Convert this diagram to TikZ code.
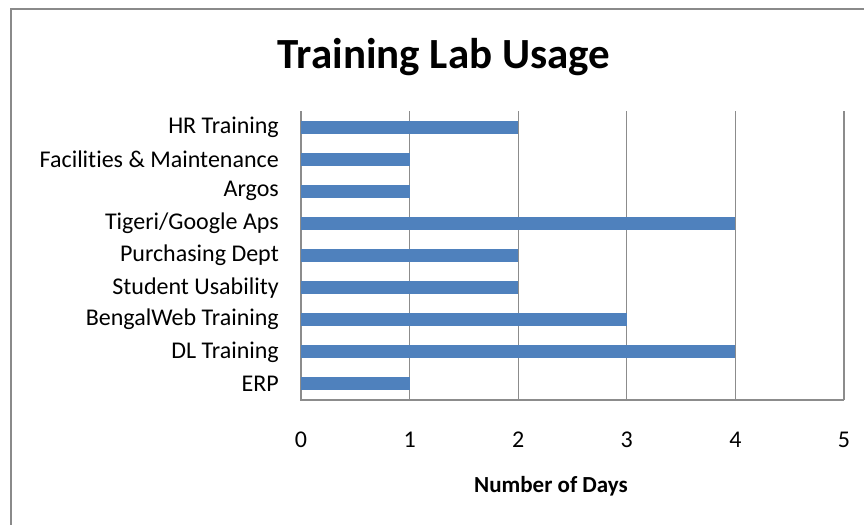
\documentclass[tikz,border=0pt]{standalone}
\usepackage{fontspec}
\setmainfont[Ligatures=NoCommon]{Carlito}
\definecolor{barblue}{HTML}{4F81BD}
\definecolor{gridgray}{HTML}{8C8C8C}
\definecolor{framegray}{HTML}{8A8A8A}

\tikzset{
  frame/.style={draw=framegray, line width=2pt},
  gridline/.style={draw=gridgray, line width=1.3pt},
  bar/.style={fill=barblue, draw=none},
  catlabel/.style={anchor=east, inner sep=0pt, font=\fontsize{24}{26}\selectfont},
  ticklabel/.style={inner sep=0pt, font=\fontsize{24}{26}\selectfont},
}

\begin{document}
\begin{tikzpicture}[x=1pt,y=-1pt]
\useasboundingbox (0,0) rectangle (864,525);
\draw[frame] (864,9) -- (11,9) -- (11,525);
\node[font=\bfseries\fontsize{43}{46}\selectfont] (title) at (444,57) {Training Lab Usage};
% grid and axes
\foreach \d in {1,...,5}
  \draw[gridline] ({301+108.6*\d},111) -- ({301+108.6*\d},400);
\draw[gridline] (301,111) -- (301,400) -- (844,400);
% bars and category names
\foreach \name/\v [count=\i] in {HR Training/2, Facilities \& Maintenance/1, Argos/1,
    {Tigeri/Google Aps}/4, Purchasing Dept/2, Student Usability/2,
    BengalWeb Training/3, DL Training/4, ERP/1}
{
  \fill[bar] (301,{111+32.11*(\i-0.5)-6.5}) rectangle ({301+108.6*\v},{111+32.11*(\i-0.5)+6.5});
  \node[catlabel] (cat\i) at (279,{111+32.11*(\i-0.5)}) {\name};
}
% ticks
\foreach \d in {0,...,5}
  \node[ticklabel] (tick\d) at ({301+108.6*\d},440) {\d};
\node[font=\bfseries\fontsize{23}{25}\selectfont] (xlabel) at (551,486) {Number of Days};
\end{tikzpicture}
\end{document}
